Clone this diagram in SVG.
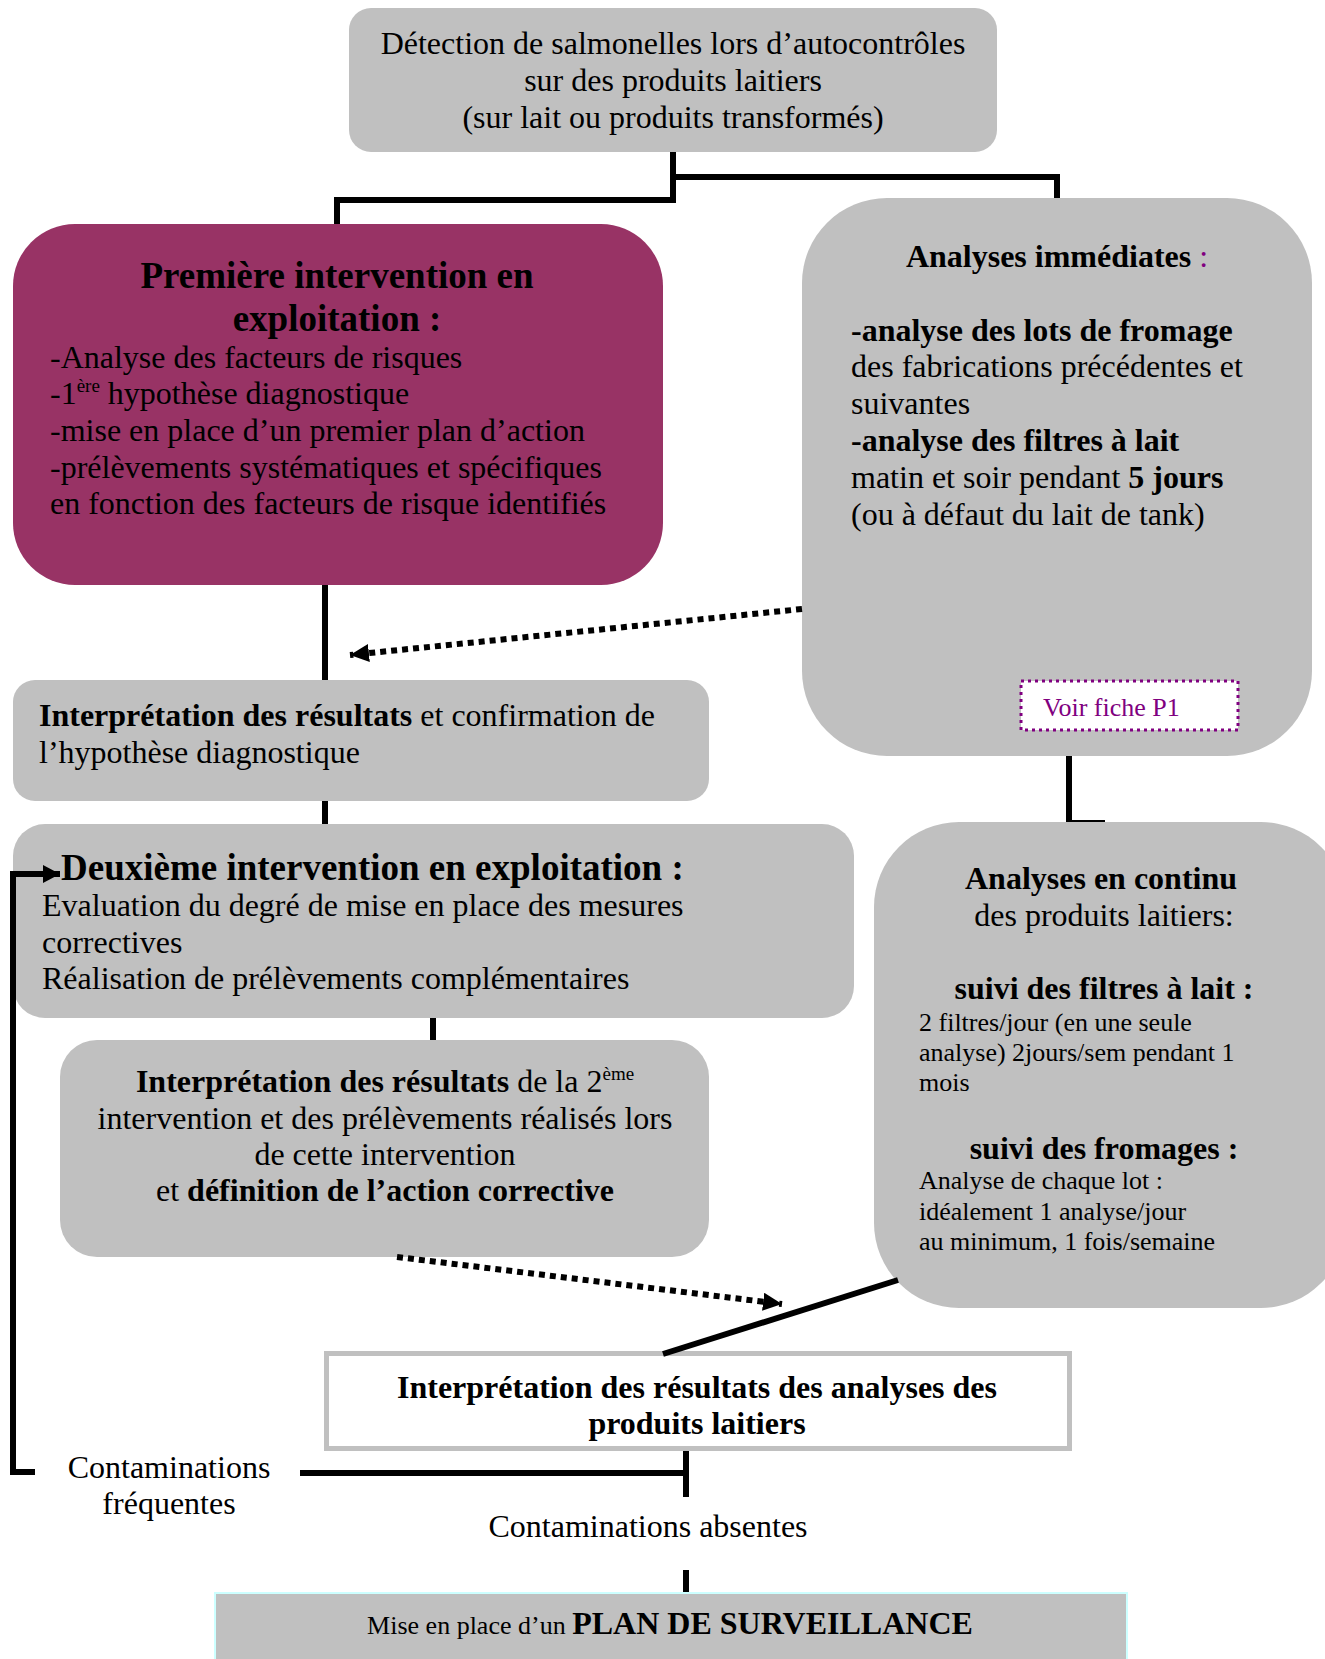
<svg xmlns="http://www.w3.org/2000/svg" width="1325" height="1659" viewBox="0 0 1325 1659">
  <style>
    text { font-family: "Liberation Serif", "Times New Roman", serif; fill: #000; }
    .t32 { font-size: 32px; }
    .t26 { font-size: 26px; }
    .title { font-size: 37px; font-weight: bold; }
    .b { font-weight: bold; }
    .sup { font-size: 19px; }
    .mid { text-anchor: middle; }
    .grey { fill: #C0C0C0; }
    .plum { fill: #983365; }
    .link { fill: none; stroke: #000; stroke-width: 6; }
    .thin { fill: none; stroke: #000; stroke-width: 2; }
    .dots { fill: none; stroke: #000; stroke-width: 6; stroke-dasharray: 6 5; }
    .purple { fill: #800080; }
  </style>
  <defs>
    <marker id="headBig" markerUnits="userSpaceOnUse" markerWidth="20" markerHeight="18" refX="19" refY="9" orient="auto">
      <path d="M0,0 L19,9 L0,18 Z" fill="#000"/>
    </marker>
    <marker id="headSmall" markerUnits="userSpaceOnUse" markerWidth="18" markerHeight="18" refX="17" refY="9" orient="auto">
      <path d="M0,0 L17,9 L0,18 Z" fill="#000"/>
    </marker>
  </defs>

  <rect width="1325" height="1659" fill="#fff"/>

  <!-- detection box -->
  <g id="detection">
    <rect class="grey" x="349" y="8" width="648" height="144" rx="22"/>
    <text class="t32 mid" x="673" y="54">Détection de salmonelles lors d’autocontrôles</text>
    <text class="t32 mid" x="673" y="91">sur des produits laitiers</text>
    <text class="t32 mid" x="673" y="128">(sur lait ou produits transformés)</text>
  </g>

  <!-- first on-farm intervention -->
  <g id="premiere-intervention">
    <rect class="plum" x="13" y="224" width="650" height="361" rx="62"/>
    <text class="title mid" x="337" y="288">Première intervention en</text>
    <text class="title mid" x="337" y="331">exploitation :</text>
    <text class="t32" x="50" y="368">-Analyse des facteurs de risques</text>
    <text class="t32" x="50" y="404">-1<tspan class="sup" dy="-12">ère</tspan><tspan dy="12"> hypothèse diagnostique</tspan></text>
    <text class="t32" x="50" y="441">-mise en place d’un premier plan d’action</text>
    <text class="t32" x="50" y="478">-prélèvements systématiques et spécifiques</text>
    <text class="t32" x="50" y="514">en fonction des facteurs de risque identifiés</text>
  </g>

  <!-- immediate analyses -->
  <g id="analyses-immediates">
    <rect class="grey" x="802" y="198" width="510" height="558" rx="85"/>
    <text class="t32 mid" x="1057" y="267"><tspan class="b">Analyses immédiates</tspan><tspan class="purple"> :</tspan></text>
    <text class="t32 b" x="851" y="341">-analyse des lots de fromage</text>
    <text class="t32" x="851" y="377">des fabrications précédentes et</text>
    <text class="t32" x="851" y="414">suivantes</text>
    <text class="t32 b" x="851" y="451">-analyse des filtres à lait</text>
    <text class="t32" x="851" y="488">matin et soir pendant <tspan class="b">5 jours</tspan></text>
    <text class="t32" x="851" y="525">(ou à défaut du lait de tank)</text>
    <g id="voir-fiche">
      <rect x="1021" y="681" width="217" height="49" fill="#fff" stroke="#800080" stroke-width="3" stroke-dasharray="3 4"/>
      <text class="t26 purple" x="1043" y="716">Voir fiche P1</text>
    </g>
  </g>

  <!-- interpretation of first results -->
  <g id="interpretation-1">
    <rect class="grey" x="13" y="680" width="696" height="121" rx="22"/>
    <text class="t32" x="39" y="726"><tspan class="b">Interprétation des résultats</tspan> et confirmation de</text>
    <text class="t32" x="39" y="763">l’hypothèse diagnostique</text>
  </g>

  <!-- second on-farm intervention -->
  <g id="deuxieme-intervention">
    <rect class="grey" x="13" y="824" width="841" height="194" rx="32"/>
    <text class="title" x="61" y="880">Deuxième intervention en exploitation :</text>
    <text class="t32" x="42" y="916">Evaluation du degré de mise en place des mesures</text>
    <text class="t32" x="42" y="953">correctives</text>
    <text class="t32" x="42" y="989">Réalisation de prélèvements complémentaires</text>
  </g>

  <!-- interpretation of second intervention -->
  <g id="interpretation-2">
    <rect class="grey" x="60" y="1040" width="649" height="217" rx="37"/>
    <text class="t32 mid" x="385" y="1092"><tspan class="b">Interprétation des résultats</tspan> de la 2<tspan class="sup" dy="-12">ème</tspan></text>
    <text class="t32 mid" x="385" y="1129">intervention et des prélèvements réalisés lors</text>
    <text class="t32 mid" x="385" y="1165">de cette intervention</text>
    <text class="t32 mid" x="385" y="1201">et <tspan class="b">définition de l’action corrective</tspan></text>
  </g>

  <!-- continuous analyses -->
  <g id="analyses-continu">
    <rect class="grey" x="874" y="822" width="472" height="486" rx="85"/>
    <text class="t32 b mid" x="1101" y="889">Analyses en continu</text>
    <text class="t32 mid" x="1104" y="926">des produits laitiers:</text>
    <text class="t32 b mid" x="1104" y="999">suivi des filtres à lait :</text>
    <text class="t26" x="919" y="1031">2 filtres/jour (en une seule</text>
    <text class="t26" x="919" y="1061">analyse) 2jours/sem pendant 1</text>
    <text class="t26" x="919" y="1091">mois</text>
    <text class="t32 b mid" x="1104" y="1159">suivi des fromages :</text>
    <text class="t26" x="919" y="1189">Analyse de chaque lot :</text>
    <text class="t26" x="919" y="1220">idéalement 1 analyse/jour</text>
    <text class="t26" x="919" y="1250">au minimum, 1 fois/semaine</text>
  </g>

  <!-- interpretation of dairy product analyses -->
  <g id="interpretation-produits">
    <rect x="326.5" y="1353.5" width="743" height="95" fill="#fff" stroke="#C0C0C0" stroke-width="5"/>
    <text class="t32 b mid" x="697" y="1398">Interprétation des résultats des analyses des</text>
    <text class="t32 b mid" x="697" y="1434">produits laitiers</text>
  </g>

  <!-- outcome labels -->
  <g id="contaminations-frequentes">
    <text class="t32 mid" x="169" y="1478">Contaminations</text>
    <text class="t32 mid" x="169" y="1514">fréquentes</text>
  </g>
  <g id="contaminations-absentes">
    <text class="t32 mid" x="648" y="1537">Contaminations absentes</text>
  </g>

  <!-- surveillance plan -->
  <g id="plan-surveillance">
    <rect class="grey" x="215" y="1593" width="912" height="80" stroke="#CCFFFF" stroke-width="2"/>
    <text class="mid" x="670" y="1634"><tspan class="t26">Mise en place d’un </tspan><tspan class="t32 b">PLAN DE SURVEILLANCE</tspan></text>
  </g>

  <!-- connectors, drawn last so the loop-back arrow sits on top of the boxes -->
  <g id="connectors">
    <polyline class="link" points="673,152 673,200 337,200 337,224"/>
    <polyline class="link" points="673,177 1057,177 1057,198"/>
    <line class="link" x1="325" y1="585" x2="325" y2="680" stroke-width="5"/>
    <line class="link" x1="325" y1="801" x2="325" y2="824" stroke-width="5"/>
    <line class="link" x1="433" y1="1018" x2="433" y2="1040" stroke-width="5"/>
    <line class="link" x1="1069" y1="756" x2="1069" y2="822" stroke-width="5"/>
    <line class="thin" x1="1069" y1="821" x2="1105" y2="821"/>
    <line class="dots" x1="802" y1="609" x2="350" y2="655" marker-end="url(#headBig)"/>
    <line class="dots" x1="397" y1="1257" x2="782" y2="1304" marker-end="url(#headBig)"/>
    <line class="link" x1="898" y1="1280" x2="663" y2="1354" stroke-width="8"/>
    <line class="link" x1="686" y1="1451" x2="686" y2="1497" stroke-width="5"/>
    <line class="link" x1="300" y1="1473" x2="686" y2="1473" stroke-width="5"/>
    <line class="link" x1="686" y1="1570" x2="686" y2="1592" stroke-width="5"/>
    <polyline class="link" stroke-width="5" points="35,1472 13,1472 13,874 60,874" marker-end="url(#headSmall)"/>
  </g>
</svg>
